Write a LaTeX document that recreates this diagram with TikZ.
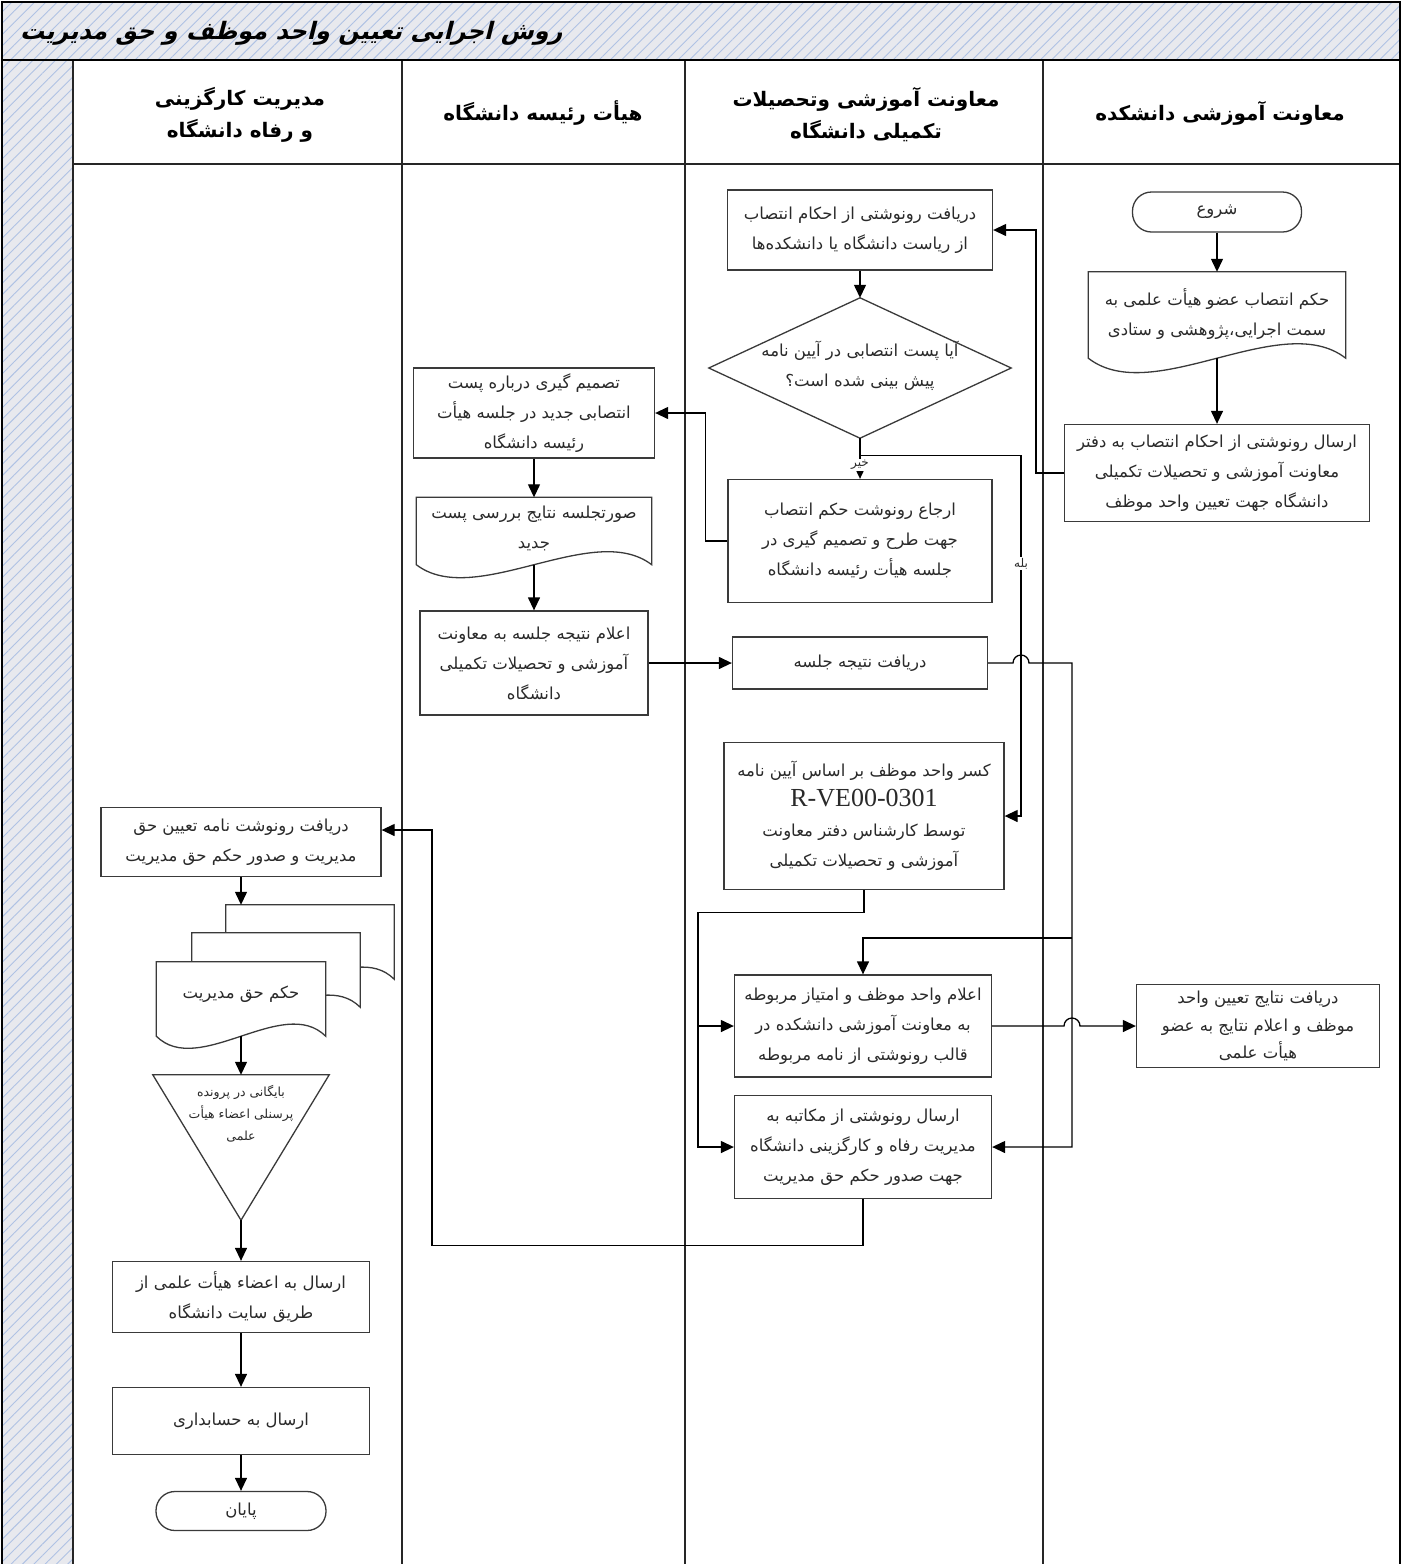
\documentclass[tikz,border=0pt]{standalone}
\usepackage{fontspec}
\usetikzlibrary{arrows.meta,patterns.meta,calc}
\TeXXeTstate=1
\newfontfamily\arfont[Script=Arabic]{DejaVu Sans}
\newfontfamily\artitle[Script=Arabic,FakeSlant=0.25]{DejaVu Sans}
\newfontfamily\enserif{Liberation Serif}
\newcommand{\prs}[1]{{\arfont\beginR #1\endR}}
\newcommand{\prb}[1]{{\arfont\bfseries\beginR #1\endR}}
\definecolor{hatchbg}{HTML}{E8E9EE}
\definecolor{hatchln}{HTML}{AFC2E4}
\definecolor{boxln}{HTML}{3A3A3A}
\definecolor{txt}{HTML}{2A2A2A}
\newcommand{\docpath}[2]{(#1.north west) -- (#1.north east) -- (#1.south east) .. controls ($(#1.south east)!0.5!(#1.south)+(0,-#2)$) and ($(#1.south west)!0.5!(#1.south)+(0,#2)$) .. (#1.south west) -- cycle}
\tikzset{
  base/.style={align=center,inner sep=0pt,text=txt,font=\fontsize{16.5}{30}\selectfont},
  box/.style 2 args={base,draw=boxln,line width=1.3pt,fill=white,minimum width=#1,minimum height=#2},
  term/.style 2 args={box={#1}{#2},rounded corners=19pt},
  plain/.style 2 args={base,minimum width=#1,minimum height=#2},
  arr/.style={-{Triangle[length=13pt,width=12pt]},line width=1.3pt},
  lane/.style={line width=1.5pt,draw=black!85},
  shp/.style={draw=boxln,line width=1.3pt,fill=white},
  lbl/.style={fill=white,inner sep=1.5pt,text=txt,font=\fontsize{12}{14}\selectfont},
  hdr/.style={align=center,inner sep=0pt,font=\fontsize{20}{32}\selectfont}
}
\begin{document}
\begin{tikzpicture}[x=1pt,y=-1pt]
\useasboundingbox (0,0) rectangle (1402,1564);
% hatched areas
\fill[hatchbg] (2,2) rectangle (1400,60);
\fill[hatchbg] (2,60) rectangle (73,1566);
\fill[pattern={Lines[angle=45,distance=8pt,line width=0.9pt]},pattern color=hatchln] (2,2) rectangle (1400,60) (2,60) rectangle (73,1566);
% frame and lanes
\draw[lane] (73,60) -- (73,1566);
\draw[lane] (402,60) -- (402,1566);
\draw[lane] (685,60) -- (685,1566);
\draw[lane] (1043,60) -- (1043,1566);
\draw[lane] (73,164) -- (1400,164);
\draw[line width=2pt] (2,60) -- (1400,60);
\draw[line width=2.4pt] (2,1566) -- (2,2) -- (1400,2) -- (1400,1566);
% title and headers
\node[anchor=west,inner sep=0pt,font=\fontsize{24}{28}\selectfont] (title) at (20,33) {\artitle\bfseries\beginR روش اجرایی تعیین واحد موظف و حق مدیریت\endR};
\node[hdr] (h1) at (240,115) {\prb{مدیریت کارگزینی}\\\prb{و رفاه دانشگاه}};
\node[hdr] (h2) at (543,113) {\prb{هیأت رئیسه دانشگاه}};
\node[hdr] (h3) at (866,115) {\prb{معاونت آموزشی وتحصیلات}\\\prb{تکمیلی دانشگاه}};
\node[hdr] (h4) at (1220,113) {\prb{معاونت  آموزشی دانشکده}};

% lane 4
\node[term={169}{40}] (start) at (1217,212) {\prs{شروع}};
\node[plain={257}{86}] (doc1) at (1217,315) {};
\path[shp] \docpath{doc1}{50};
\node[base] (doc1text) at (1217,314) {\prs{حکم انتصاب عضو هیأت علمی به}\\\prs{سمت اجرایی،پژوهشی و ستادی}};
\node[box={305}{97}] (send1) at (1217,473) {\prs{ارسال رونوشتی از احکام انتصاب به دفتر}\\\prs{معاونت آموزشی و تحصیلات تکمیلی}\\\prs{دانشگاه جهت تعیین واحد موظف}};
\node[box={243}{83},font=\fontsize{16.5}{27.5}\selectfont] (final4) at (1258,1026) {\prs{دریافت نتایج تعیین واحد}\\\prs{موظف و اعلام نتایج به عضو}\\\prs{هیأت علمی}};

% lane 3
\node[box={265}{80}] (recv1) at (860,230) {\prs{دریافت رونوشتی از احکام انتصاب}\\\prs{از ریاست دانشگاه یا دانشکده‌ها}};
\node[plain={302}{140}] (dia) at (860,368) {};
\path[shp] (dia.north) -- (dia.east) -- (dia.south) -- (dia.west) -- cycle;
\node[base] (diatext) at (860,366) {\prs{آیا پست انتصابی در آیین نامه}\\\prs{پیش بینی شده است؟}};
\node[box={264}{123}] (refer) at (860,541) {\prs{ارجاع رونوشت حکم انتصاب}\\\prs{جهت طرح و تصمیم گیری در}\\\prs{جلسه هیأت رئیسه دانشگاه}};
\node[box={255}{52}] (result) at (860,663) {\prs{دریافت نتیجه جلسه}};
\node[box={280}{147}] (deduct) at (864,816) {\prs{کسر واحد موظف بر اساس آیین نامه}\\{\enserif\fontsize{26}{32}\selectfont R-VE00-0301}\\\prs{توسط کارشناس دفتر معاونت}\\\prs{آموزشی و تحصیلات تکمیلی}};
\node[box={257}{102}] (ann2) at (863,1026) {\prs{اعلام واحد موظف و امتیاز مربوطه}\\\prs{به معاونت آموزشی دانشکده در}\\\prs{قالب رونوشتی از نامه مربوطه}};
\node[box={257}{103}] (send2) at (863,1147) {\prs{ارسال رونوشتی از مکاتبه به}\\\prs{مدیریت رفاه و کارگزینی دانشگاه}\\\prs{جهت صدور حکم حق مدیریت}};

% lane 2
\node[box={241}{90}] (decide) at (534,413) {\prs{تصمیم گیری درباره پست}\\\prs{انتصابی جدید در جلسه هیأت}\\\prs{رئیسه دانشگاه}};
\node[plain={235}{67}] (minutes) at (534,531) {};
\path[shp] \docpath{minutes}{45};
\node[base] (mintext) at (534,528) {\prs{صورتجلسه نتایج بررسی پست}\\\prs{جدید}};
\node[box={228}{104}] (announce) at (534,663) {\prs{اعلام نتیجه جلسه به معاونت}\\\prs{آموزشی و تحصیلات تکمیلی}\\\prs{دانشگاه}};

% lane 1
\node[box={280}{69}] (recvHR) at (241,842) {\prs{دریافت رونوشت نامه تعیین حق}\\\prs{مدیریت و صدور حکم حق مدیریت}};
\node[plain={168}{74}] (md3) at (310,942) {};
\node[plain={168}{74}] (md2) at (276,970) {};
\node[plain={169}{74}] (md) at (241,999) {};
\path[shp] \docpath{md3}{42};
\path[shp] \docpath{md2}{42};
\path[shp] \docpath{md}{42};
\node[base] (mdtext) at (241,994) {\prs{حکم حق مدیریت}};
\node[plain={176}{145}] (tri) at (241,1147.5) {};
\path[shp] (tri.north west) -- (tri.north east) -- (tri.south) -- cycle;
\node[base,font=\fontsize{12.5}{22}\selectfont] (tritext) at (241,1114) {\prs{بایگانی در پرونده}\\\prs{پرسنلی اعضاء هیأت}\\\prs{علمی}};
\node[box={257}{71}] (site) at (241,1297) {\prs{ارسال به  اعضاء هیأت علمی از}\\\prs{طریق سایت دانشگاه}};
\node[box={257}{67}] (acct) at (241,1421) {\prs{ارسال به حسابداری}};
\node[term={170}{39}] (endn) at (241,1511) {\prs{پایان}};

% helper coordinates
\coordinate (yesx) at (1021,0);
\coordinate (busx) at (1072,0);
\coordinate (lx) at (698,0);
\coordinate (hx) at (432,0);
\coordinate (yb) at ($(dia.south)+(0,17)$);
\coordinate (br) at (1072,938);

% connectors
\draw[arr] (start.south) -- (doc1.north);
\draw[arr] (doc1.south) -- (send1.north);
\draw[arr] (send1.west) -- ++(-28,0) |- (recv1.east);
\draw[arr] (recv1.south) -- (dia.north);
\draw[arr] (dia.south) -- node[lbl,pos=0.66]{\prs{خیر}} (refer.north);
\draw[arr] (yb) -- (yesx |- yb) -- node[lbl,pos=0.3]{\prs{بله}} (yesx |- deduct.east) -- (deduct.east);
\draw[arr] (refer.west) -- ++(-22,0) |- (decide.east);
\draw[arr] (decide.south) -- (minutes.north);
\draw[arr] (minutes.south) -- (announce.north);
\draw[arr] (announce.east) -- (result.west);
\draw[arr] (result.east) -- ($(yesx |- result.east)+(-8,0)$) arc[start angle=180,end angle=360,radius=8] -- (busx |- result.east) -- (busx |- send2.east) -- (send2.east);
\draw[arr] (br) -| (ann2.north);
\draw[arr] (deduct.south) -- ++(0,22) -| (lx |- send2.west) -- (send2.west);
\draw[arr] (lx |- ann2.west) -- (ann2.west);
\draw[arr] (ann2.east) -- ($(busx |- ann2.east)+(-8,0)$) arc[start angle=180,end angle=360,radius=8] -- (final4.west);
\draw[arr] (send2.south) -- ++(0,46) -| ($(hx |- recvHR.east)+(0,-12)$) -- ($(recvHR.east)+(0,-12)$);
\draw[arr] (recvHR.south) -- (recvHR.south |- md3.north);
\draw[arr] (md.south) -- (tri.north);
\draw[arr] (tri.south) -- (site.north);
\draw[arr] (site.south) -- (acct.north);
\draw[arr] (acct.south) -- (endn.north);
\end{tikzpicture}
\end{document}
